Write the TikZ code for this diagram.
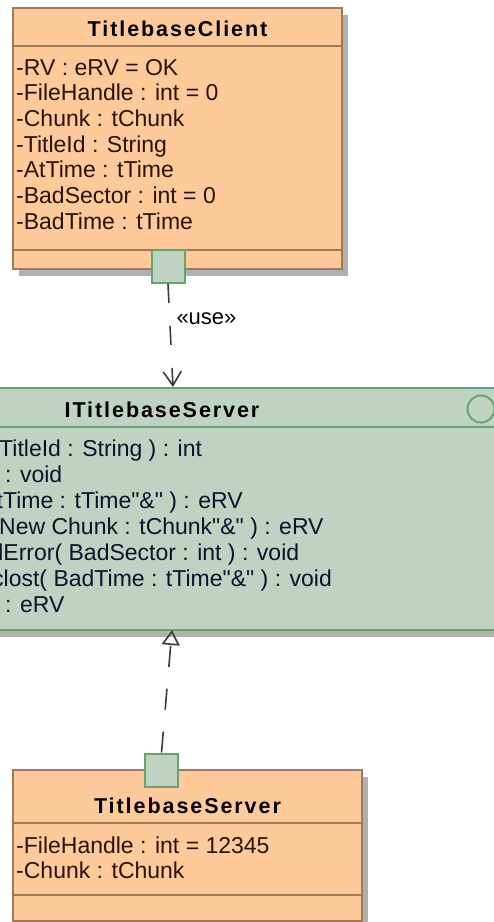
\documentclass[tikz,border=0pt]{standalone}
\usepackage{fontspec}
\setmainfont{Liberation Sans}
\newfontfamily\umltitle[LetterSpace=9]{Liberation Sans}
\usepackage{xcolor}
\definecolor{classfill}{HTML}{FFCA99}
\definecolor{classdraw}{HTML}{9C7A5A}
\definecolor{ifacefill}{HTML}{BED3C1}
\definecolor{ifacedraw}{HTML}{68A26C}
\definecolor{umlshadow}{HTML}{B0B0B0}
\definecolor{classtext}{HTML}{2A1206}
\definecolor{ifacetext}{HTML}{10102E}
\definecolor{linkgray}{HTML}{3A3A3A}
\usetikzlibrary{arrows.meta, positioning, calc, shadows}
\newcommand{\qamp}{\textquotedbl\&\textquotedbl}

\begin{document}
\begin{tikzpicture}[
  x=1pt, y=-1pt,
  umlbox/.style={rectangle, line width=2pt, anchor=north west, inner sep=0pt,
    drop shadow={shadow xshift=6pt, shadow yshift=-7pt, fill=umlshadow, opacity=1}},
  classbox/.style={umlbox, fill=classfill, draw=classdraw},
  ifacebox/.style={umlbox, fill=ifacefill, draw=ifacedraw},
  portbox/.style={rectangle, fill=ifacefill, draw=ifacedraw, line width=2pt,
    minimum size=33pt, inner sep=0pt},
  boxname/.style={anchor=base, inner sep=0pt, text=black,
    font=\fontsize{21.5}{26}\umltitle\bfseries},
  attr/.style={anchor=base west, inner sep=0pt, text=classtext,
    font=\fontsize{23}{26}\selectfont},
  oper/.style={attr, text=ifacetext},
  link/.style={draw=linkgray, line width=1.6pt}
]
\useasboundingbox (0,0) rectangle (494,922);
\clip (0,0) rectangle (494,922);

% TitlebaseClient
\node[classbox, minimum width=329pt, minimum height=261pt] (client) at (12,7) {};
\draw[classdraw, line width=2pt] ([yshift=-39pt]client.north west) -- ([yshift=-39pt]client.north east);
\draw[classdraw, line width=2pt] ([yshift=20pt]client.south west) -- ([yshift=20pt]client.south east);
\node[boxname] (clientname) at (client.north |- 0,36) {TitlebaseClient};
\foreach \txt [count=\i from 0] in {{-RV : eRV = OK}, {-FileHandle : int = 0},
    {-Chunk : tChunk}, {-TitleId : String}, {-AtTime : tTime},
    {-BadSector : int = 0}, {-BadTime : tTime}}
  \node[attr] (cattr\i) at (16,{75+25.7*\i}) {\txt};

% ITitlebaseServer (cut by the left and right edges)
\node[ifacebox, minimum width=560pt, minimum height=242pt] (iface) at (-30,387) {};
\draw[ifacedraw, line width=2pt] ([yshift=-40pt]iface.north west) -- ([yshift=-40pt]iface.north east);
\node[boxname, text=black] (ifacename) at (162,417) {ITitlebaseServer};
\node[circle, draw=ifacedraw, line width=2pt, minimum size=27pt, inner sep=0pt] (ifaceicon) at (481,409) {};
\foreach \xstart/\txt [count=\i from 0] in {-1/{TitleId : String ) : int}, 5/{: void},
    -3.5/{tTime : tTime\qamp{} ) : eRV}, -1/{New Chunk : tChunk\qamp{} ) : eRV},
    -9.5/{dError( BadSector : int ) : void}, -8/{clost( BadTime : tTime\qamp{} ) : void},
    5/{: eRV}}
  \node[oper] (iop\i) at (\xstart,{456+26*\i}) {\txt};

% TitlebaseServer
\node[classbox, minimum width=349pt, minimum height=151pt] (server) at (12,769) {};
\draw[classdraw, line width=2pt] ([yshift=-54pt]server.north west) -- ([yshift=-54pt]server.north east);
\draw[classdraw, line width=2pt] ([yshift=-126pt]server.north west) -- ([yshift=-126pt]server.north east);
\node[boxname] (servername) at (server.north |- 0,813) {TitlebaseServer};
\node[attr] (sattr0) at (16,853) {-FileHandle : int = 12345};
\node[attr] (sattr1) at (16,878) {-Chunk : tChunk};

% ports
\node[portbox] (clientport) at (168,266.5) {};
\node[portbox] (serverport) at (161.5,770) {};

% connectors
\coordinate (usehit) at (173,387);
\coordinate (realhit) at (172,630);
\draw[link, dash pattern=on 19pt off 23pt, -{Straight Barb[length=14pt, width=18pt, line width=1.6pt]}]
  (clientport.south) -- (usehit)
  node[pos=0.34, right=6pt, inner sep=0pt, text=black, font=\fontsize{22}{26}\selectfont] (uselabel) {«use»};
\draw[link, dash pattern=on 21pt off 22pt, -{Triangle[open, length=15pt, width=18pt, line width=1.6pt]}]
  (serverport.north) -- (realhit);
\end{tikzpicture}
\end{document}
